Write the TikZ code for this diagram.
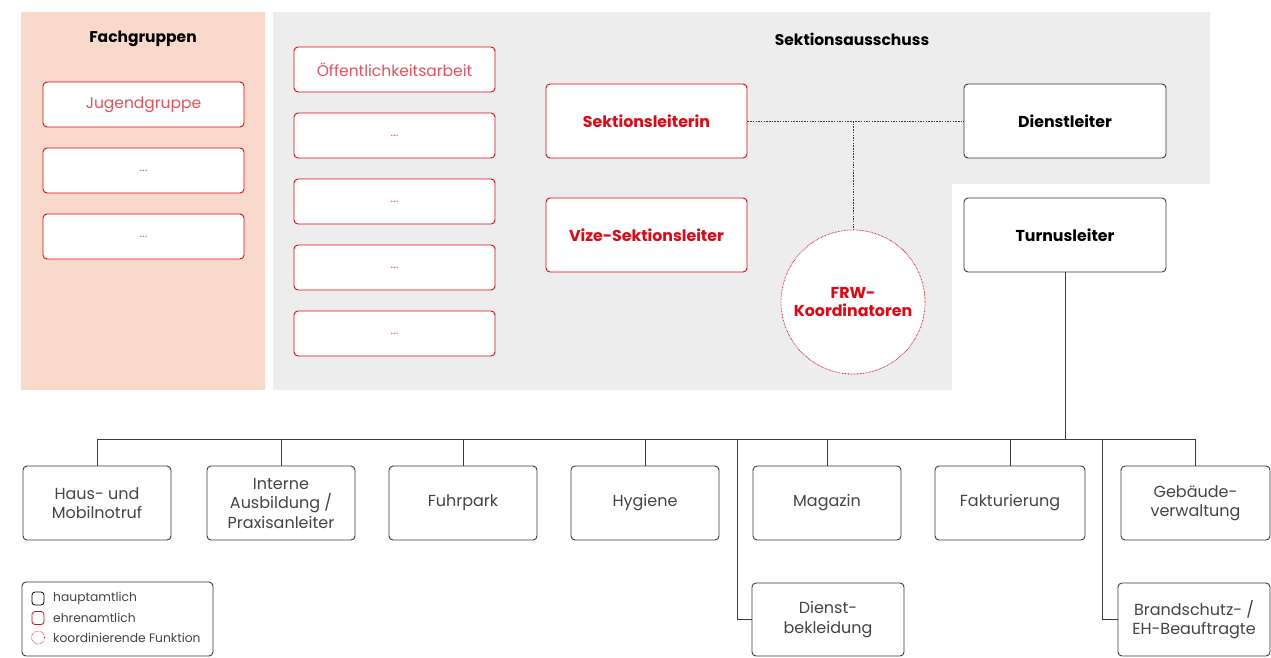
\documentclass[tikz,border=0pt]{standalone}
\usepackage{fontspec}
\setmainfont{Poppins}
\usetikzlibrary{calc}
\definecolor{peach}{HTML}{F8D9CB}
\definecolor{panelgray}{HTML}{EDEDED}
\definecolor{dred}{HTML}{E30613}
\definecolor{lred}{HTML}{E8505B}
\definecolor{dgray}{HTML}{3A3A3A}
\definecolor{tgray}{HTML}{444444}
\begin{document}
\begin{tikzpicture}[x=1pt,y=-1pt,
  redbox/.style={draw=dred,line width=0.9pt,rounded corners=4pt,fill=white,align=center,inner sep=0pt},
  blackbox/.style={draw=dgray,line width=0.9pt,rounded corners=4pt,fill=white,align=center,inner sep=0pt},
  smallred/.style={redbox,minimum width=201pt,minimum height=45pt,text=lred,font=\fontsize{15.5}{17}\selectfont},
  dots/.style={font=\fontsize{12}{13}\selectfont},
  bigred/.style={redbox,minimum width=201pt,minimum height=74pt,text=dred,font=\bfseries\fontsize{15.8}{18}\selectfont},
  bigblack/.style={blackbox,minimum width=202pt,minimum height=74pt,text=black,font=\bfseries\fontsize{15.8}{18}\selectfont},
  unitbox/.style={blackbox,minimum width=148pt,minimum height=74pt,text=tgray,font=\fontsize{16}{19.5}\selectfont},
  paneltitle/.style={font=\bfseries\fontsize{15.5}{17}\selectfont,text=black},
  dotline/.style={draw=dgray,line width=0.8pt,dash pattern=on 1.5pt off 1.2pt},
  treeline/.style={draw=dgray,line width=0.9pt},
  legtext/.style={anchor=west,inner sep=0pt,text=tgray,font=\fontsize{12.3}{14}\selectfont}
]
\useasboundingbox (0,0) rectangle (1271,657);
% panels
\fill[peach] (21,12) rectangle (265,390);
\fill[panelgray] (273,12) -- (1210,12) -- (1210,184) -- (952,184) -- (952,390) -- (273,390) -- cycle;
\node[paneltitle] (tfach) at (143,39) {Fachgruppen};
\node[paneltitle] (tsekt) at (852,39) {Sektionsausschuss};
% Fachgruppen
\node[smallred] (f1) at (143.5,104.5) {Jugendgruppe};
\node[smallred,dots] (f2) at (143.5,170.5) {...};
\node[smallred,dots] (f3) at (143.5,236.5) {...};
% Column boxes
\node[smallred] (c1) at (394.5,69.5) {Öffentlichkeitsarbeit};
\node[smallred,dots] (c2) at (394.5,135.5) {...};
\node[smallred,dots] (c3) at (394.5,201.5) {...};
\node[smallred,dots] (c4) at (394.5,267.5) {...};
\node[smallred,dots] (c5) at (394.5,333.5) {...};
% leaders
\node[bigred] (sl) at (646.5,121) {Sektionsleiterin};
\node[bigred] (vsl) at (646.5,235) {Vize-Sektionsleiter};
\node[bigblack] (dl) at (1065,121) {Dienstleiter};
\node[bigblack] (tl) at (1065,235) {Turnusleiter};
\node[circle,draw=dred,line width=0.8pt,dash pattern=on 0.6pt off 0.9pt,fill=white,minimum size=144pt,inner sep=0pt,align=center,text=dred,font=\bfseries\fontsize{15.8}{18}\selectfont] (frw) at (853,302) {FRW-\\Koordinatoren};
% dotted connections
\coordinate (dj) at (frw.north |- sl.east);
\draw[dotline] (sl.east) -- (dl.west);
\draw[dotline] (dj) -- (frw.north);
% units
\node[unitbox] (u1) at (97,503) {Haus- und\\Mobilnotruf};
\node[unitbox] (u2) at (281,503) {Interne\\Ausbildung /\\Praxisanleiter};
\node[unitbox] (u3) at (463,503) {Fuhrpark};
\node[unitbox] (u4) at (645,503) {Hygiene};
\node[unitbox] (u5) at (827,503) {Magazin};
\node[unitbox,minimum width=150pt] (u6) at (1010,503) {Fakturierung};
\node[unitbox,minimum width=149pt] (u7) at (1195.5,503) {Gebäude-\\verwaltung};
\node[unitbox,minimum width=152pt,minimum height=73pt] (u8) at (828,619.5) {Dienst-\\bekleidung};
\node[unitbox,minimum width=152pt,minimum height=73pt] (u9) at (1194,619.5) {Brandschutz- /\\EH-Beauftragte};
% tree
\coordinate (bus) at (1065,439);
\coordinate (b8) at (737,439);
\coordinate (b9) at (1102,439);
\draw[treeline] (tl.south) -- (bus);
\draw[treeline] (u1.north |- bus) -- (u7.north |- bus);
\foreach \u in {u1,u2,u3,u4,u5,u6,u7}{
  \draw[treeline] (\u.north) -- (\u.north |- bus);
}
\draw[treeline] (b8) |- (u8.west);
\draw[treeline] (b9) |- (u9.west);
% legend
\node[blackbox,minimum width=191pt,minimum height=74pt] (leg) at (117.5,619) {};
\node[draw=black,line width=0.8pt,rounded corners=3pt,minimum width=12pt,minimum height=13pt,inner sep=0pt] (i1) at (38,598.5) {};
\node[draw=dred,line width=0.8pt,rounded corners=3pt,minimum width=12pt,minimum height=13pt,inner sep=0pt] (i2) at (38,618) {};
\node[circle,draw=dred,line width=0.6pt,dash pattern=on 0.5pt off 0.8pt,minimum size=13pt,inner sep=0pt] (i3) at (38,637.5) {};
\node[legtext] (l1) at (53,598.5) {hauptamtlich};
\node[legtext] (l2) at (53,618) {ehrenamtlich};
\node[legtext] (l3) at (53,637.5) {koordinierende Funktion};
\end{tikzpicture}
\end{document}
